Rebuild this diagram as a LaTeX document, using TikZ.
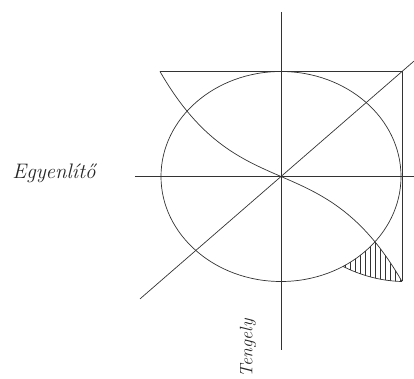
\documentclass[tikz,border=0pt]{standalone}
\usepackage{tikz}
\usetikzlibrary{calc}
\tikzset{
  % --- lines
  ln/.style    = {draw=black!80, line width=0.7pt},
  axis/.style  = {ln},
  hatch/.style = {draw=black!80, line width=0.6pt},
  % --- labels
  lbl/.style   = {font=\fontsize{21}{24}\selectfont\itshape, text=black!85, inner sep=0pt},
}

\begin{document}
\begin{tikzpicture}[x=1pt,y=1pt]
  \useasboundingbox (-281,-202.5) rectangle (133,176.5);

  % points
  \coordinate (O)    at (0,0);
  \coordinate (tl)   at (-121,105);
  \coordinate (tr)   at (121,105);
  \coordinate (br)   at (121,-105);
  \coordinate (ntop) at (0,164.5);
  \coordinate (nbot) at (0,-173.5);
  \coordinate (wl)   at (-146,0);
  \coordinate (wr)   at (133,0);
  \coordinate (dl)   at (-141,-122.4);
  \coordinate (dr)   at (133,115.4);
  \coordinate (hA)   at (62,-89.9);

  % axes
  \draw[axis] (ntop) -- (nbot);
  \draw[axis] (wl) -- (wr);
  \draw[ln] (dl) -- (dr);

  % ellipse and frame
  \draw[ln] (O) ellipse [x radius=120, y radius=105];
  \draw[ln] (tl) -- (tr) -- (br);

  % S-curve
  \draw[ln] plot[domain=-1:1, samples=81, smooth] ({121*\x},{-105*(0.5*\x+0.5*\x^3)});

  % hatched piece
  \begin{scope}
    \clip (hA) arc[start angle=-58.9, end angle=-38.6, x radius=120, y radius=105]
      -- plot[domain=0.775:1, samples=15, smooth] ({121*\x},{-105*(0.5*\x+0.5*\x^3)})
      .. controls (100,-104.5) and (80,-99) .. (hA) -- cycle;
    \foreach \hx in {64,69,...,124}
      \draw[hatch] (\hx,-110) -- (\hx,-55);
  \end{scope}
  \draw[ln] (br) .. controls (100,-104.5) and (80,-99) .. (hA);

  % labels
  \node[lbl] (eq) at (-227,3) {Egyenlítő};
  \node[lbl, rotate=90, font=\fontsize{18}{20}\selectfont\itshape] (ax) at (-33,-172) {Tengely};
\end{tikzpicture}
\end{document}
